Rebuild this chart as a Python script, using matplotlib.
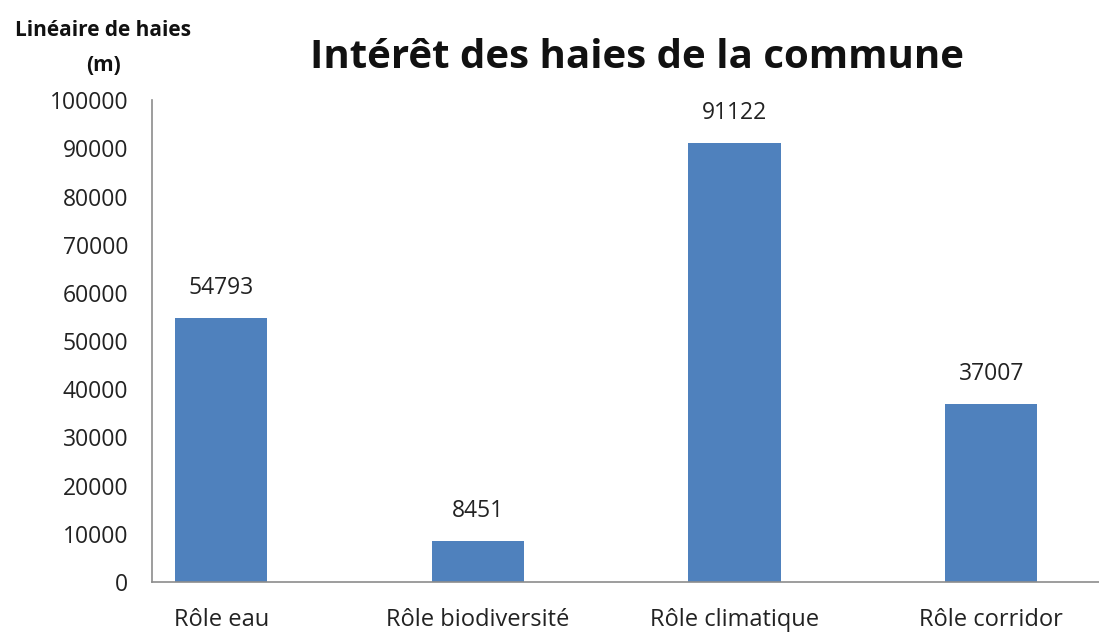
import numpy as np
import matplotlib.pyplot as plt

plt.rcParams['font.family'] = ['Open Sans', 'DejaVu Sans']

# data
roles = ['Rôle eau', 'Rôle biodiversité', 'Rôle climatique', 'Rôle corridor']
lineaire = [54793, 8451, 91122, 37007]
yticks = np.arange(0, 100001, 10000)

fig = plt.figure(figsize=(10.99, 6.34), dpi=100)
ax = fig.add_axes([0.1383, 0.082, 0.8617, 0.760])

x = np.arange(len(roles))
bars = ax.bar(x, lineaire, width=0.36, color='#4F81BD')

for b, v in zip(bars, lineaire):
    ax.annotate(str(v), (b.get_x() + b.get_width() / 2, v),
                xytext=(0, 13), textcoords='offset points',
                ha='center', va='bottom', fontsize=16.5, color='#222222')

ax.set_xlim(-0.27, 3.42)
ax.set_ylim(0, 100000)
ax.set_yticks(yticks)
ax.set_yticklabels([str(t) for t in yticks])
ax.set_xticks(x)
ax.set_xticklabels(roles)
ax.tick_params(axis='y', length=0, pad=17, labelsize=16.5, labelcolor='#222222')
ax.tick_params(axis='x', length=0, pad=19, labelsize=17, labelcolor='#222222')

for s in ['top', 'right']:
    ax.spines[s].set_visible(False)
for s in ['left', 'bottom']:
    ax.spines[s].set_color('#8c8c8c')
    ax.spines[s].set_linewidth(1.2)

fig.text(0.58, 0.91, 'Intérêt des haies de la commune', ha='center', va='center',
         fontsize=29, fontweight='bold', color='#111111')
fig.text(0.094, 0.952, 'Linéaire de haies', ha='center', va='center',
         fontsize=15, fontweight='bold', color='#111111')
fig.text(0.094, 0.897, '(m)', ha='center', va='center',
         fontsize=15, fontweight='bold', color='#111111')

fig.savefig('out.png', dpi=100)
